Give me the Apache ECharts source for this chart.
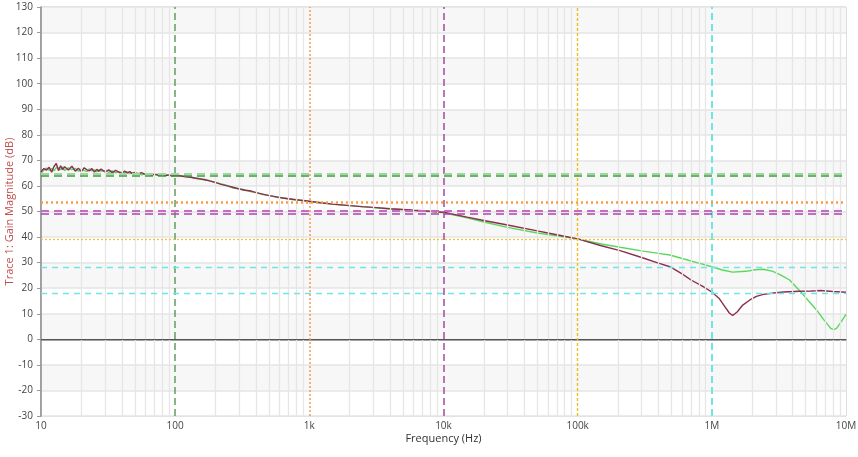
<!DOCTYPE html>
<html>
<head>
<meta charset="utf-8">
<script src="https://cdn.jsdelivr.net/npm/echarts@6/dist/echarts.min.js"></script>
<style>html,body{margin:0;padding:0;background:#fff}#c{width:858px;height:457px}</style>
</head>
<body>
<div id="c"></div>
<script>
// ---- data ----
var xTickLabels = ['10', '100', '1k', '10k', '100k', '1M', '10M'];
var yMin = -30, yMax = 130, yStep = 10;

var freqA = [10,10.5,11,11.5,12,12.5,13,13.5,14,14.5,15,16,17,18,19,20,21,22,23,24,25,26,27,28,30,32,34,36,38,40,42,44,46,48,50,53,56,60,63,66,70,75,80,85,90,95,100,
  110,120,130,140,150,165,180,200,220,240,270,300,330,370,400,450,500,560,630,700,800,900,1000,1200,1500,2000,2500,3000,4000,5000,6000,8000,10000,15000,20000,30000,50000,70000,100000,150000,207000,300000,400000,487000,600000,700000,850000,1000000,1130000,1250000,1350000,1430000,1550000,1700000,1920000,2150000,2420000,3000000,3410000,4500000,5500000,6000000,6200000,6500000,8000000,10000000];
var gainA = [65.5,66.8,66.2,67.3,65.4,67.6,68.8,66.0,67.9,66.4,67.5,66.2,67.7,65.8,66.9,65.6,67.1,66.3,65.9,66.8,65.4,66.5,65.7,66.6,65.5,66.3,65.2,66.1,65.4,64.9,65.8,65.1,65.6,64.8,65.3,64.6,65.2,64.4,64.7,64.3,64.6,64.2,64.5,64.1,64.3,63.9,64.1,
  63.9,63.6,63.4,63.1,62.8,62.5,62.0,61.4,60.6,60.1,59.5,58.8,58.3,58.0,57.4,56.8,56.2,55.8,55.3,55.0,54.6,54.3,54.0,53.4,52.9,52.3,51.9,51.6,51.1,50.8,50.5,50.1,49.7,47.8,46.5,44.7,42.4,40.9,39.3,36.6,34.7,32.0,29.8,28.4,25.6,23.2,20.8,18.5,16.1,12.8,10.3,9.3,10.8,13.4,15.4,16.8,17.6,18.2,18.5,18.8,18.9,19.0,19.4,19.1,18.7,18.4];

var freqB = [10,10.5,11,11.5,12,12.5,13,13.5,14,14.5,15,16,17,18,19,20,21,22,23,24,25,26,27,28,30,32,34,36,38,40,42,44,46,48,50,53,56,60,63,66,70,75,80,85,90,95,100,
  110,120,130,140,150,165,180,200,220,240,270,300,330,370,400,450,500,560,630,700,800,900,1000,1200,1500,2000,2500,3000,4000,5000,6000,8000,10000,15000,20000,30000,50000,70000,100000,150000,207000,300000,400000,487000,600000,800000,1000000,1200000,1430000,1800000,2100000,2420000,2850000,3300000,3800000,4700000,5300000,6050000,6800000,7700000,8100000,8500000,9200000,10000000];
var gainB = [64.8,66.2,67.0,66.1,66.8,65.9,67.2,67.0,66.3,67.5,66.0,67.1,66.4,66.9,65.7,66.6,66.0,65.6,66.7,65.9,66.3,65.5,66.4,65.8,66.0,65.3,65.9,65.1,65.6,65.3,65.0,65.5,64.8,65.2,64.6,65.0,64.3,64.8,64.6,64.4,64.3,64.6,64.0,64.4,64.2,64.1,64.3,
  64.0,63.7,63.6,63.0,62.9,62.3,62.1,61.2,60.8,60.3,59.2,58.9,58.5,57.7,57.5,56.6,56.3,55.6,55.4,54.9,54.5,54.2,53.9,53.5,52.8,52.3,51.8,51.5,51.0,50.7,50.4,50.0,49.5,47.5,45.9,43.8,41.6,40.5,39.3,37.3,36.0,34.6,33.6,33.0,31.6,29.8,28.4,27.1,26.3,26.6,27.2,27.4,26.6,25.0,23.2,18.0,14.8,11.4,7.8,4.3,3.8,4.3,6.8,9.8];

// marker lines
var vMarkFreq = [100, 1000, 10000, 100000, 1000000];
var hMarkGain = [64.8, 63.9, 53.8, 50.1, 49.2, 39.3, 28.3, 18.1];

// ---- styles ----
var vMarkStyle = [
  {color:'#5f9f5f', type:[7,4], width:1.5},
  {color:'#f59a55', type:[2,2], width:1.5},
  {color:'#a548a5', type:[7,4], width:1.5},
  {color:'#f0bd20', type:[3,2], width:1.4},
  {color:'#6fe6e6', type:[7,4], width:2}
];
var hMarkStyle = [
  {color:'#a3d4a3', type:[8,5], width:2},
  {color:'#3a9e3a', type:[8,5], width:1.5},
  {color:'#fb9c45', type:[2,3], width:2.5},
  {color:'#c56bc5', type:[8,5], width:2},
  {color:'#b044b0', type:[8,5], width:1.5},
  {color:'#f2c23a', type:[2,2], width:1.3},
  {color:'#6ee6e6', type:[6,5], width:1.3},
  {color:'#6ee6e6', type:[6,5], width:1.3}
];

// minor log grid positions
var minorFreq = [];
for (var d = 1; d < 7; d++) {
  for (var m = 2; m <= 9; m++) minorFreq.push(m * Math.pow(10, d));
}

function pairs(f, g) { return f.map(function (x, i) { return [x, g[i]]; }); }

function markSeries(item, style, z) {
  return {
    type: 'line', data: [], silent: true, z: z,
    markLine: {silent: true, symbol: 'none', label: {show: false}, animation: false,
      lineStyle: style, emphasis: {disabled: true}, data: [item]}
  };
}

var series = [
  {
    type: 'line', data: [], silent: true, z: 1,
    markLine: {silent: true, symbol: 'none', label: {show: false}, animation: false,
      lineStyle: {color: '#e6e6e6', type: 'solid', width: 1.3},
      data: minorFreq.map(function (f) { return {xAxis: f}; })}
  },
  markSeries({yAxis: 0}, {color: '#555555', type: 'solid', width: 1.2}, 2),
  {
    name: 'B', type: 'line', data: pairs(freqB, gainB), showSymbol: false, smooth: false,
    lineStyle: {color: '#5ad85a', width: 1.4}, z: 3
  },
  {
    name: 'A', type: 'line', data: pairs(freqA, gainA), showSymbol: false, smooth: false,
    lineStyle: {color: '#8c2d52', width: 1.4}, z: 4
  }
];
vMarkFreq.forEach(function (f, i) { series.push(markSeries({xAxis: f}, vMarkStyle[i], 5)); });
hMarkGain.forEach(function (g, i) { series.push(markSeries({yAxis: g}, hMarkStyle[i], 5)); });

var chart = echarts.init(document.getElementById('c'), null, {renderer: 'canvas'});
var fontFam = '"Open Sans","Noto Sans",sans-serif';
chart.setOption({
  animation: false,
  backgroundColor: '#ffffff',
  grid: {left: 41, right: 12, top: 7, bottom: 41, containLabel: false, outerBoundsMode: 'none',
    show: true, borderColor: '#bdbdbd', borderWidth: 1, backgroundColor: 'transparent'},
  xAxis: {
    type: 'log', logBase: 10, min: 10, max: 10000000,
    name: 'Frequency (Hz)', nameLocation: 'middle', nameGap: 17, nameMoveOverlap: false,
    nameTextStyle: {color: '#333', fontSize: 11, fontFamily: fontFam},
    axisLine: {lineStyle: {color: '#8a8a8a', width: 1.5}},
    axisTick: {show: false},
    axisLabel: {color: '#444', fontSize: 10, fontFamily: fontFam, margin: 5,
      formatter: function (v) { var i = Math.round(Math.log10(v)) - 1; return xTickLabels[i] || ''; }},
    splitLine: {show: false}
  },
  yAxis: {
    type: 'value', min: yMin, max: yMax, interval: yStep,
    name: 'Trace 1: Gain Magnitude (dB)', nameLocation: 'middle', nameGap: 26, nameMoveOverlap: false,
    nameTextStyle: {color: '#c0504d', fontSize: 11, fontFamily: fontFam},
    axisLine: {show: true, lineStyle: {color: '#8a8a8a', width: 1.5}},
    axisTick: {show: true, length: 4, lineStyle: {color: '#9a9a9a'}},
    axisLabel: {color: '#444', fontSize: 10, fontFamily: fontFam, margin: 8},
    splitLine: {show: true, lineStyle: {color: '#e4e4e4', width: 1.5}},
    splitArea: {show: true, areaStyle: {color: ['#ffffff', '#f7f7f7']}}
  },
  series: series
});
</script>
</body>
</html>
